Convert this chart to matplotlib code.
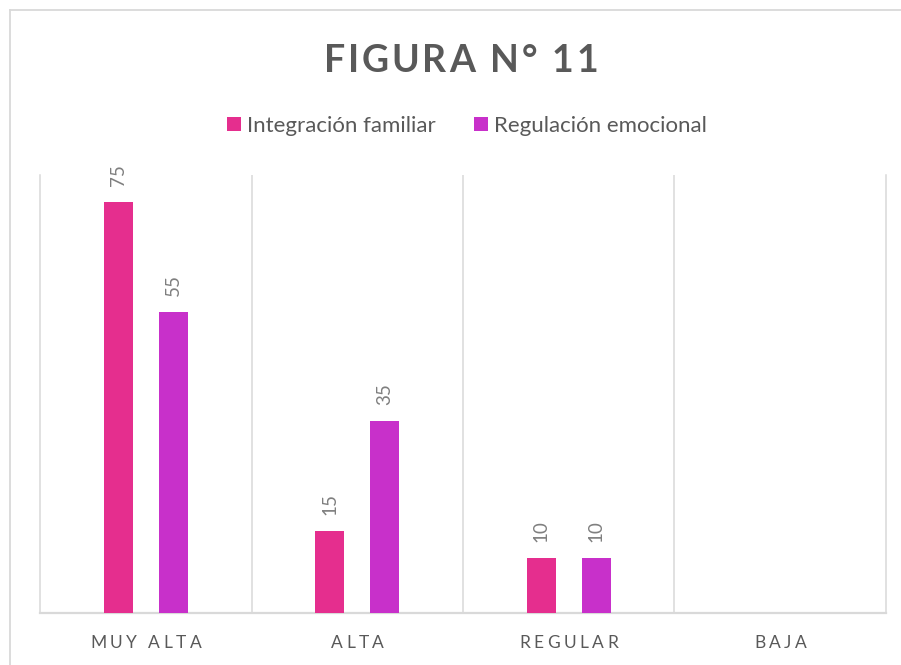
import matplotlib
matplotlib.use('Agg')
import matplotlib.pyplot as plt
from matplotlib.font_manager import FontProperties
from matplotlib.textpath import TextToPath
from matplotlib.transforms import IdentityTransform
from matplotlib.lines import Line2D
import numpy as np

# ---------------- data ----------------
title = 'FIGURA N° 11'
categories = ['MUY ALTA', 'ALTA', 'REGULAR', 'BAJA']
series_names = ['Integración familiar', 'Regulación emocional']
integracion = [75, 15, 10, 0]
regulacion = [55, 35, 10, 0]

# ---------------- style ----------------
W, H, DPI = 901, 665, 100
PINK = '#E52E8E'
PURPLE = '#C830CA'
GRID = '#D9D9D9'
DARK = '#595959'
LABEL = '#7F7F7F'
FONT = 'Lato'

fig = plt.figure(figsize=(W / DPI, H / DPI), dpi=DPI)
fig.patch.set_facecolor('white')
ax = fig.add_axes([40 / W, 1 - 613 / H, (886 - 40) / W, (613 - 175) / H])

ttp = TextToPath()


def width_px(s, prop):
    w, h, d = ttp.get_text_width_height_descent(s, prop, ismath=False)
    return w * DPI / 72.0


def spaced_text(s, cx, baseline_y, size, weight, color, target_width=None, spacing=0.0):
    prop = FontProperties(family=FONT, size=size, weight=weight)
    ref = width_px('H', prop)
    adv = [width_px(s[:i] + 'H', prop) - ref for i in range(len(s))]
    base_w = width_px(s, prop)
    n = len(s)
    if target_width is not None and n > 1:
        spacing = (target_width - base_w) / (n - 1)
    total = base_w + (n - 1) * spacing
    start = cx - total / 2.0
    for i, c in enumerate(s):
        if c == ' ':
            continue
        fig.text(start + adv[i] + i * spacing, H - baseline_y, c,
                 transform=IdentityTransform(), ha='left', va='baseline',
                 fontproperties=prop, color=color)
    return spacing


# ---------------- bars ----------------
x = np.arange(len(categories))
bw = 0.137
off = 0.13
b1 = ax.bar(x - off, integracion, width=bw, color=PINK, label=series_names[0], zorder=3)
b2 = ax.bar(x + off, regulacion, width=bw, color=PURPLE, label=series_names[1], zorder=3)

ax.set_xlim(-0.5, len(categories) - 0.5)
ax.set_ylim(0, 80)
ax.set_yticks([])
ax.set_xticks(x)
ax.set_xticklabels([])
ax.tick_params(axis='x', length=0)
ax.set_xticks(np.arange(0.5, len(categories) - 0.5, 1.0), minor=True)
ax.tick_params(axis='x', which='minor', length=0)
ax.grid(which='minor', axis='x', color=GRID, lw=1.1, zorder=0)
for side in ['left', 'right']:
    ax.spines[side].set_color(GRID)
    ax.spines[side].set_linewidth(1.1)
ax.spines['top'].set_visible(False)
ax.spines['bottom'].set_color(GRID)
ax.spines['bottom'].set_linewidth(1.6)
ax.set_facecolor('white')

# data labels
for rects, vals in ((b1, integracion), (b2, regulacion)):
    for rect, v in zip(rects, vals):
        if v > 0:
            ax.annotate(f'{v}', (rect.get_x() + rect.get_width() / 2, v),
                        xytext=(0, 16), textcoords='offset pixels',
                        rotation=90, ha='center', va='bottom',
                        fontsize=13.5, color=LABEL, family=FONT)

# category labels (letter spaced)
cat_sp = None
for i, c in enumerate(categories):
    cx = ax.transData.transform((i, 0))[0]
    if cat_sp is None:
        cat_sp = spaced_text(c, cx, 647.5, 12.5, 'normal', DARK, target_width=111)
    else:
        spaced_text(c, cx, 647.5, 12.5, 'normal', DARK, spacing=cat_sp)

# title
spaced_text(title, 461, 71.7, 27, 'bold', DARK, target_width=274)

# legend
p1 = FontProperties(family=FONT, size=1)
fs_leg = (188 / width_px(series_names[0], p1) + 212 / width_px(series_names[1], p1)) / 2
fs_px = fs_leg * DPI / 72.0
hh = (14 / fs_px - 0.245) / 0.65
leg = fig.legend(handles=[b1, b2], labels=series_names, loc='center',
                 bbox_to_anchor=(467 / W, 1 - 126 / H), ncol=2, frameon=False,
                 prop=FontProperties(family=FONT, size=fs_leg),
                 handlelength=14 / fs_px, handleheight=hh,
                 handletextpad=6 / fs_px, columnspacing=38 / fs_px,
                 labelcolor=DARK, borderpad=0, borderaxespad=0)

# outer chart border (top and left visible)
fig.add_artist(Line2D([10 / W, 1], [1 - 10 / H, 1 - 10 / H], transform=fig.transFigure,
                      color=GRID, lw=1.3))
fig.add_artist(Line2D([10 / W, 10 / W], [0, 1 - 10 / H], transform=fig.transFigure,
                      color=GRID, lw=1.3))

fig.savefig('out.png', dpi=DPI, facecolor='white')
